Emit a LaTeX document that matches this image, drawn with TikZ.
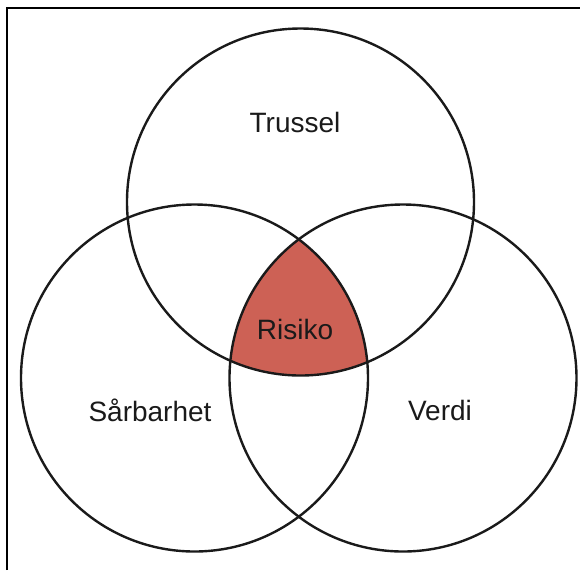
\documentclass[tikz,border=0pt]{standalone}
\usepackage{fontspec}
\setmainfont{Liberation Sans}
\definecolor{riskred}{HTML}{CD6155}
\definecolor{vennline}{HTML}{1A1A1A}
\tikzset{
	venn/.style={circle, draw=vennline, line width=1.2pt, minimum size=173.5pt, inner sep=0pt},
	vlabel/.style={font=\fontsize{14}{16}\selectfont, text=vennline}
}

\begin{document}
\begin{tikzpicture}[x=0.5pt, y=-0.5pt]
	\useasboundingbox (0,0) rectangle (580,570);
	% risk area: intersection of all three sets
	\begin{scope}
		\clip (300.5,202) circle[radius=86.75pt];
		\clip (194.5,378) circle[radius=86.75pt];
		\fill[riskred] (403,378) circle[radius=86.75pt];
	\end{scope}
	\node[venn] (trussel) at (300.5,202) {};
	\node[venn] (saarbar) at (194.5,378) {};
	\node[venn] (verdi) at (403,378) {};
	\node[vlabel] (lt) at (295,122) {Trussel};
	\node[vlabel] (ls) at (150,410) {Sårbarhet};
	\node[vlabel] (lv) at (440,410) {Verdi};
	\node[vlabel] (lr) at (295,329) {Risiko};
	% frame edges
	\draw[line width=0.7pt] (7,570) -- (7,8) -- (580,8);
\end{tikzpicture}
\end{document}
